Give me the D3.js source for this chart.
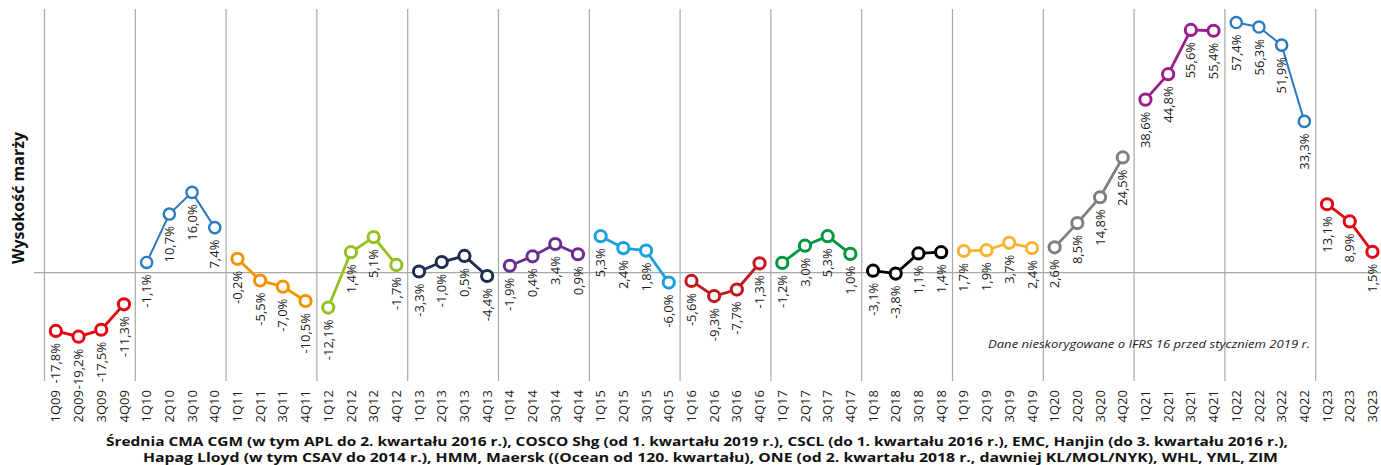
<!DOCTYPE html>
<html>
<head>
<meta charset="utf-8">
<script src="https://cdn.jsdelivr.net/npm/d3@7"></script>
<style>
    body { margin: 0; background: #fff; }
    svg { display: block; font-family: 'Open Sans', sans-serif; }
    .grid { stroke: #a8a8a8; stroke-width: 1.2; }
    .tick text { font-size: 13px; fill: #1a1a1a; }
    .value-label { font-size: 13px; fill: #1a1a1a; }
    .caption { font-size: 13px; font-weight: bold; fill: #111; }
    .note { font-size: 11.5px; font-style: italic; fill: #222; }
    .y-title { font-size: 16px; font-weight: bold; fill: #111; }
</style>
</head>
<body>
<svg id="chart" width="1381" height="465"></svg>
<script>
var width = 1381;
var height = 465;

// Quarters on the x axis
var quarterLabels = [
    '1Q09', '2Q09', '3Q09', '4Q09', '1Q10', '2Q10', '3Q10', '4Q10',
    '1Q11', '2Q11', '3Q11', '4Q11', '1Q12', '2Q12', '3Q12', '4Q12',
    '1Q13', '2Q13', '3Q13', '4Q13', '1Q14', '2Q14', '3Q14', '4Q14',
    '1Q15', '2Q15', '3Q15', '4Q15', '1Q16', '2Q16', '3Q16', '4Q16',
    '1Q17', '2Q17', '3Q17', '4Q17', '1Q18', '2Q18', '3Q18', '4Q18',
    '1Q19', '2Q19', '3Q19', '4Q19', '1Q20', '2Q20', '3Q20', '4Q20',
    '1Q21', '2Q21', '3Q21', '4Q21', '1Q22', '2Q22', '3Q22', '4Q22',
    '1Q23', '2Q23', '3Q23'
];

// Average margin per quarter (%), one array per year
var margin2009 = [-17.8, -19.2, -17.5, -11.3];
var margin2010 = [-1.1, 10.7, 16.0, 7.4];
var margin2011 = [-0.2, -5.5, -7.0, -10.5];
var margin2012 = [-12.1, 1.4, 5.1, -1.7];
var margin2013 = [-3.3, -1.0, 0.5, -4.4];
var margin2014 = [-1.9, 0.4, 3.4, 0.9];
var margin2015 = [5.3, 2.4, 1.8, -6.0];
var margin2016 = [-5.6, -9.3, -7.7, -1.3];
var margin2017 = [-1.2, 3.0, 5.3, 1.0];
var margin2018 = [-3.1, -3.8, 1.1, 1.4];
var margin2019 = [1.7, 1.9, 3.7, 2.4];
var margin2020 = [2.6, 8.5, 14.8, 24.5];
var margin2021 = [38.6, 44.8, 55.6, 55.4];
var margin2022 = [57.4, 56.3, 51.9, 33.3];
var margin2023 = [13.1, 8.9, 1.5];

var years = ['2009', '2010', '2011', '2012', '2013', '2014', '2015', '2016',
    '2017', '2018', '2019', '2020', '2021', '2022', '2023'];

var yearValues = [margin2009, margin2010, margin2011, margin2012, margin2013,
    margin2014, margin2015, margin2016, margin2017, margin2018, margin2019,
    margin2020, margin2021, margin2022, margin2023];

var yearColors = ['#e30613', '#2a7bc0', '#f39200', '#95c11f', '#1e2c4f',
    '#6b2c8f', '#1aa0e0', '#c4161c', '#009640', '#000000', '#f9b234',
    '#7f7f7f', '#9a1f8a', '#2a7bc0', '#e30613'];

// Thinner strokes for the blue years
var thinYears = ['2010', '2022'];

// The horizontal axis crosses the value axis here
var axisCross = -3.6;

var yTitle = 'Wysokość marży';
var note = 'Dane nieskorygowane o IFRS 16 przed styczniem 2019 r.';
var captionLines = [
    'Średnia CMA CGM (w tym APL do 2. kwartału 2016 r.), COSCO Shg (od 1. kwartału 2019 r.), CSCL (do 1. kwartału 2016 r.), EMC, Hanjin (do 3. kwartału 2016 r.),',
    'Hapag Lloyd (w tym CSAV do 2014 r.), HMM, Maersk ((Ocean od 120. kwartału), ONE (od 2. kwartału 2018 r., dawniej KL/MOL/NYK), WHL, YML, ZIM'
];

function formatPct(v) {
    return v.toFixed(1).replace('.', ',') + '%';
}

var x = d3.scaleBand()
    .domain(quarterLabels)
    .range([44.5, 44.5 + quarterLabels.length * 22.7]);

var y = d3.scaleLinear()
    .domain([-30, 60.7])
    .range([381, 9]);

var svg = d3.select('#chart');

// Vertical lines at the start of every year
svg.append('g')
    .selectAll('line')
    .data(quarterLabels.filter(function (q) { return q.substr(0, 2) == '1Q'; }))
    .enter().append('line')
    .attr('class', 'grid')
    .attr('x1', function (d) { return x(d); })
    .attr('x2', function (d) { return x(d); })
    .attr('y1', y.range()[1])
    .attr('y2', y.range()[0]);

// Horizontal axis line
svg.append('line')
    .attr('class', 'grid')
    .attr('x1', 34)
    .attr('x2', width)
    .attr('y1', y(axisCross))
    .attr('y2', y(axisCross));

// Quarter labels, rotated
var xAxis = svg.append('g')
    .attr('transform', 'translate(0,390)')
    .attr('font-family', null)
    .attr('font-size', null)
    .call(d3.axisBottom(x).tickSize(0));

xAxis.attr('font-family', null).attr('font-size', null);
xAxis.select('.domain').remove();
xAxis.selectAll('.tick text')
    .attr('y', 0)
    .attr('x', 0)
    .attr('dy', '0.35em')
    .attr('transform', 'rotate(-90)')
    .style('text-anchor', 'end');

var line = d3.line()
    .x(function (d) { return x(d.q) + x.bandwidth() / 2; })
    .y(function (d) { return y(d.v); });

var yearData = years.map(function (yr, i) {
    return {
        year: yr,
        color: yearColors[i],
        points: yearValues[i].map(function (v, j) {
            return { q: quarterLabels[i * 4 + j], v: v };
        })
    };
});

var groups = svg.selectAll('.year')
    .data(yearData)
    .enter().append('g')
    .attr('class', 'year');

groups.append('path')
    .attr('d', function (d) { return line(d.points); })
    .attr('fill', 'none')
    .attr('stroke', function (d) { return d.color; })
    .attr('stroke-width', function (d) { return thinYears.indexOf(d.year) >= 0 ? 2 : 2.8; });

groups.each(function (d) {
    var g = d3.select(this);
    var thin = thinYears.indexOf(d.year) >= 0;

    g.selectAll('circle')
        .data(d.points)
        .enter().append('circle')
        .attr('cx', function (p) { return x(p.q) + x.bandwidth() / 2; })
        .attr('cy', function (p) { return y(p.v); })
        .attr('r', 5.6)
        .attr('fill', '#fff')
        .attr('stroke', d.color)
        .attr('stroke-width', thin ? 2.4 : 3);

    // Value labels below the points
    g.selectAll('text')
        .data(d.points)
        .enter().append('text')
        .attr('class', 'value-label')
        .attr('transform', function (p) {
            return 'translate(' + (x(p.q) + x.bandwidth() / 2) + ',' + (y(p.v) + 12) + ') rotate(-90)';
        })
        .attr('dy', '0.35em')
        .style('text-anchor', 'end')
        .text(function (p) { return formatPct(p.v); });
});

// Axis title
svg.append('text')
    .attr('class', 'y-title')
    .attr('transform', 'translate(18,198) rotate(-90)')
    .attr('dy', '0.35em')
    .style('text-anchor', 'middle')
    .text(yTitle);

svg.append('text')
    .attr('class', 'note')
    .attr('x', 988)
    .attr('y', 348)
    .attr('textLength', 322)
    .attr('lengthAdjust', 'spacingAndGlyphs')
    .text(note);

svg.selectAll('.caption')
    .data(captionLines)
    .enter().append('text')
    .attr('class', 'caption')
    .attr('x', function (d, i) { return i == 0 ? 106 : 143; })
    .attr('y', function (d, i) { return i == 0 ? 446 : 461.5; })
    .attr('textLength', function (d, i) { return i == 0 ? 1182 : 1135; })
    .attr('lengthAdjust', 'spacingAndGlyphs')
    .text(function (d) { return d; });
</script>
</body>
</html>
